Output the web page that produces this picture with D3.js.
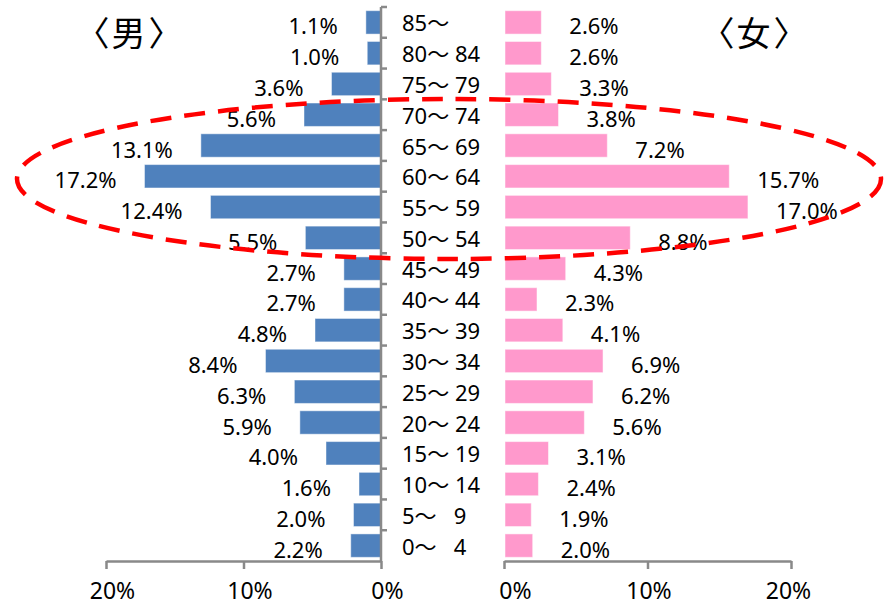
<!DOCTYPE html>
<html>
<head>
<meta charset="utf-8">
<script src="https://cdn.jsdelivr.net/npm/d3@7"></script>
<style>
  html, body { margin: 0; padding: 0; background: #fff; }
  svg { display: block; }
  text { font-family: 'Noto Sans', 'Noto Sans CJK JP', sans-serif; fill: #000; }
</style>
</head>
<body>
<svg id="chart" width="887" height="606"></svg>
<script>
// Age groups, oldest at the top
const ageGroups = ["85～", "80～ 84", "75～ 79", "70～ 74", "65～ 69", "60～ 64",
  "55～ 59", "50～ 54", "45～ 49", "40～ 44", "35～ 39", "30～ 34", "25～ 29",
  "20～ 24", "15～ 19", "10～ 14", "5～   9", "0～   4"];
// Share of each age group (%)
const maleShare = [1.1, 1.0, 3.6, 5.6, 13.1, 17.2, 12.4, 5.5, 2.7, 2.7, 4.8, 8.4, 6.3, 5.9, 4.0, 1.6, 2.0, 2.2];
const femaleShare = [2.6, 2.6, 3.3, 3.8, 7.2, 15.7, 17.0, 8.8, 4.3, 2.3, 4.1, 6.9, 6.2, 5.6, 3.1, 2.4, 1.9, 2.0];
const axisTicks = [0, 10, 20];
const sideTitles = ["男", "女"];

const svg = d3.select("#chart");
const axisColor = "#898989";
const maleColor = "#4f81bd";
const femaleColor = "#ff99cc";

const y = d3.scaleBand().domain(ageGroups).range([7, 561])
  .paddingInner(0.24).paddingOuter(0.12);
const xMale = d3.scaleLinear().domain([0, 20]).range([381, 106]);
const xFemale = d3.scaleLinear().domain([0, 20]).range([504, 791]);
const rows = ageGroups.map((g, i) => ({ g, m: maleShare[i], f: femaleShare[i] }));
const mid = d => y(d.g) + y.bandwidth() / 2;

// male bars grow leftward from the centre axis
svg.append("g").selectAll("rect").data(rows).join("rect")
  .attr("x", d => xMale(d.m)).attr("y", d => y(d.g))
  .attr("width", d => xMale(0) - xMale(d.m)).attr("height", y.bandwidth())
  .attr("fill", maleColor).attr("stroke", "#fff").attr("stroke-opacity", 0.45).attr("stroke-width", 1);

// female bars grow rightward
svg.append("g").selectAll("rect").data(rows).join("rect")
  .attr("x", xFemale(0) + 1).attr("y", d => y(d.g))
  .attr("width", d => xFemale(d.f) - xFemale(0) - 1).attr("height", y.bandwidth())
  .attr("fill", femaleColor).attr("stroke", "#fff").attr("stroke-opacity", 0.5).attr("stroke-width", 1);

// value labels
svg.append("g").selectAll("text").data(rows).join("text")
  .attr("x", d => xMale(d.m) - 28).attr("y", d => mid(d) + 12)
  .attr("text-anchor", "end").style("font-size", "22px")
  .text(d => d.m.toFixed(1) + "%");
svg.append("g").selectAll("text").data(rows).join("text")
  .attr("x", d => xFemale(d.f) + 28).attr("y", d => mid(d) + 12)
  .attr("text-anchor", "start").style("font-size", "22px")
  .text(d => d.f.toFixed(1) + "%");

// age group labels in the gap between the two halves
svg.append("g").selectAll("text").data(rows).join("text")
  .attr("x", 402).attr("y", d => mid(d) + 9)
  .style("font-size", "22px").style("white-space", "pre")
  .text(d => d.g);

// vertical axis with ticks on the category boundaries
const vAxis = svg.append("g").attr("stroke", axisColor).attr("stroke-width", 2.5);
vAxis.append("line").attr("x1", 381).attr("x2", 381).attr("y1", y.range()[0]).attr("y2", y.range()[1]);
const bounds = ageGroups.map(g => y(g) - y.step() * y.paddingInner() / 2);
vAxis.selectAll("line.tick").data(bounds.slice(0, 1).map(() => y.range()[0]).concat(bounds.slice(1)))
  .join("line").attr("class", "tick")
  .attr("x1", 381).attr("x2", 387).attr("y1", d => d).attr("y2", d => d);

// horizontal percentage axes
function drawAxis(scale, labelShift) {
  const g = svg.append("g").attr("transform", "translate(0,561)")
    .call(d3.axisBottom(scale).tickValues(axisTicks).tickSize(8).tickSizeOuter(0)
      .tickFormat(d => d + "%"));
  g.select(".domain").attr("stroke", axisColor).attr("stroke-width", 2.5);
  g.selectAll(".tick line").attr("stroke", axisColor).attr("stroke-width", 2.5);
  g.selectAll(".tick text").attr("y", 22).attr("dx", labelShift)
    .style("font-size", "23px").style("font-family", "'Noto Sans', sans-serif").attr("fill", "#000");
}
drawAxis(xMale, 6);
drawAxis(xFemale, d => (d === 0 ? 11 : d === 20 ? -3 : 1));

// side titles
function title(cx, label) {
  const t = svg.append("text").attr("x", cx).attr("y", 31)
    .attr("text-anchor", "middle").attr("dominant-baseline", "central")
    .style("font-size", "34px").style("font-family", "'Noto Sans CJK JP', sans-serif");
  t.append("tspan").text("〈");
  t.append("tspan").attr("dx", 2).text(label);
  t.append("tspan").attr("dx", 3).text("〉");
}
title(129, sideTitles[0]);
title(754, sideTitles[1]);

// dashed highlight around the 50-74 age groups
svg.append("ellipse")
  .attr("cx", 449).attr("cy", 179).attr("rx", 432).attr("ry", 80)
  .attr("fill", "none").attr("stroke", "#ff0000").attr("stroke-width", 4.5)
  .attr("stroke-dasharray", "21 13");
</script>
</body>
</html>
